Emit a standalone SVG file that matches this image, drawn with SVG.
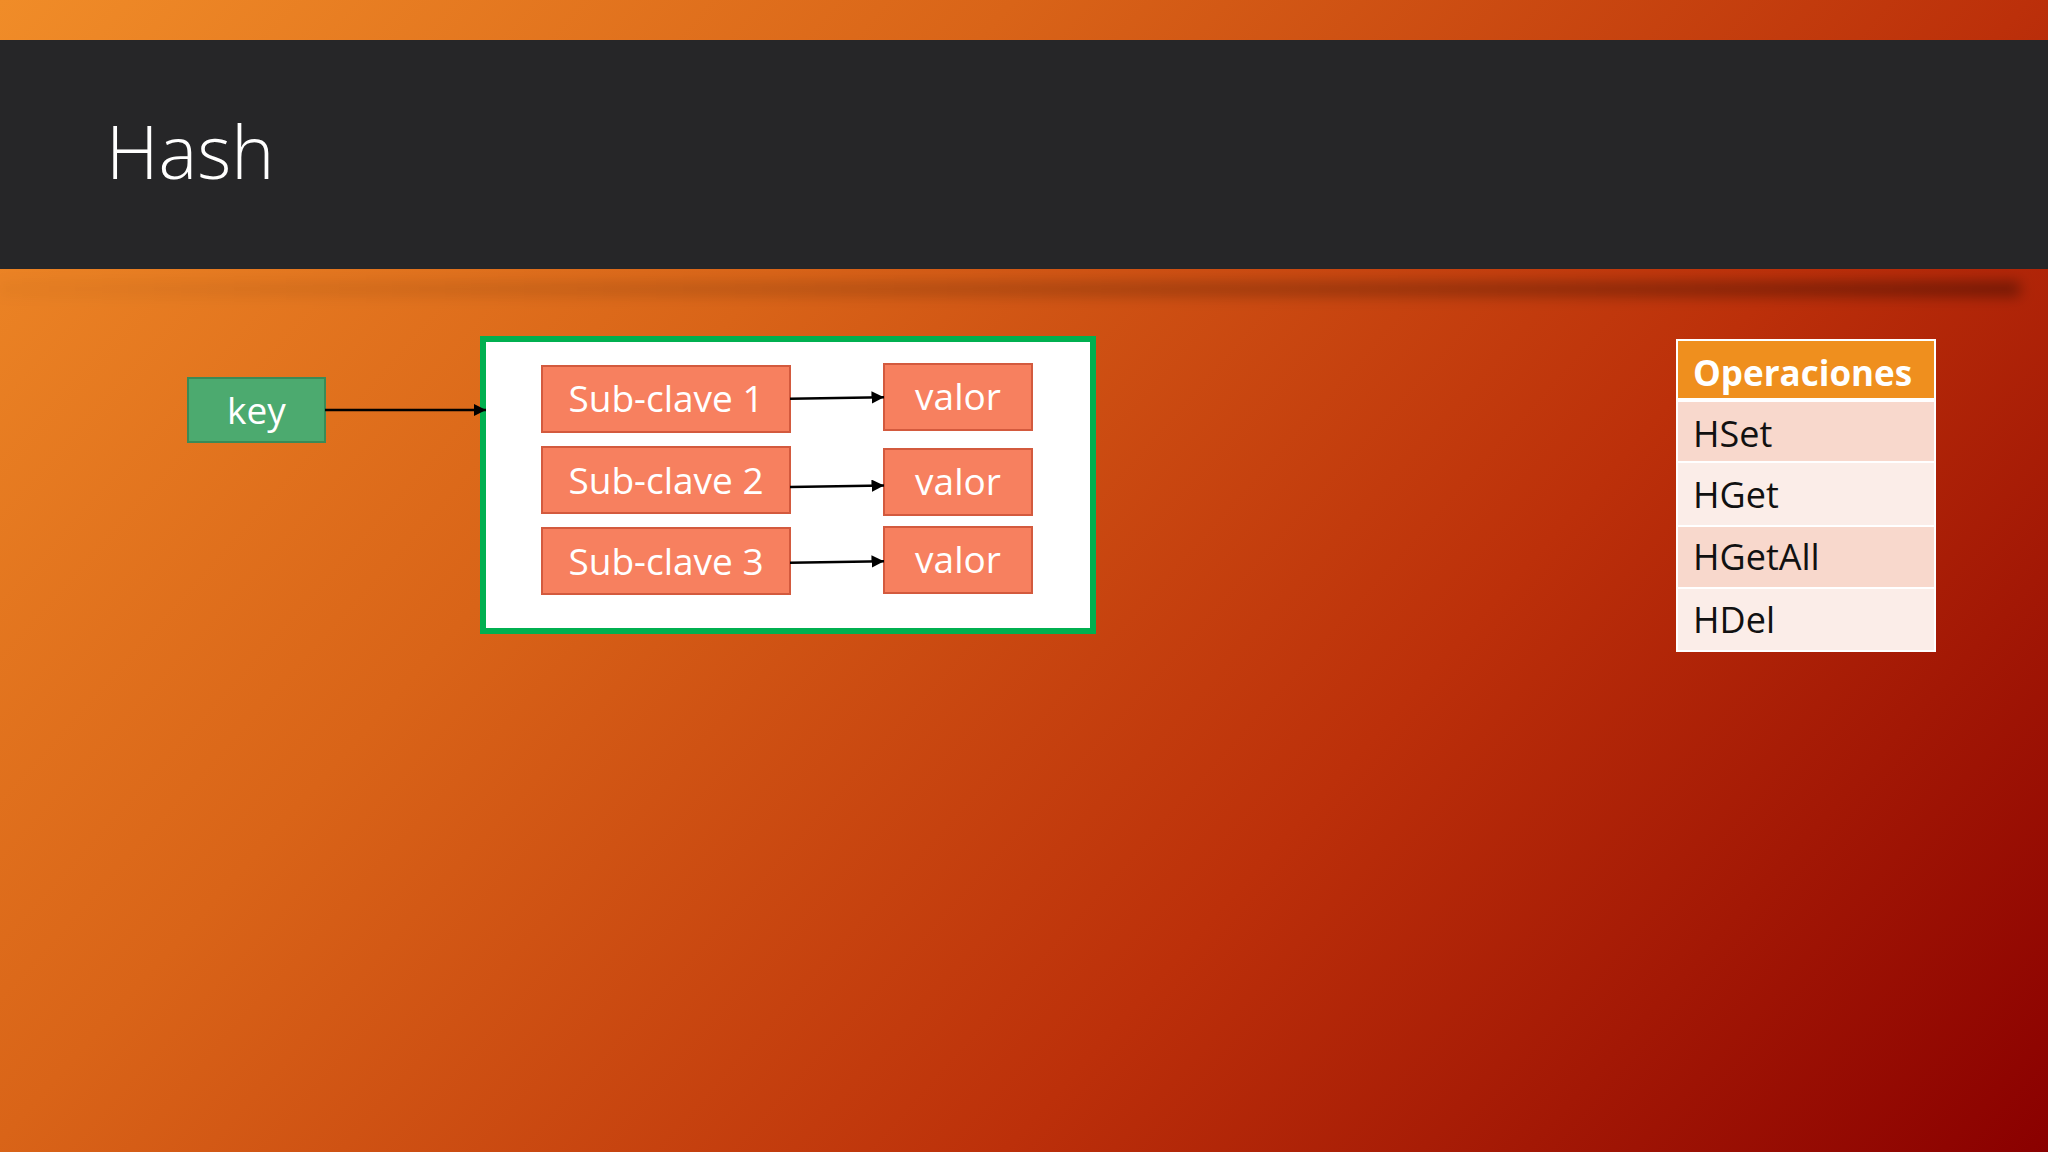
<svg xmlns="http://www.w3.org/2000/svg" width="2048" height="1152" viewBox="0 0 2048 1152">
<defs>
<linearGradient id="bg" gradientUnits="userSpaceOnUse" x1="0" y1="0" x2="1715" y2="1526">
<stop offset="0" stop-color="#F08C28"/>
<stop offset="0.33" stop-color="#D96418"/>
<stop offset="0.66" stop-color="#BC300A"/>
<stop offset="1" stop-color="#8A0000"/>
</linearGradient>
<linearGradient id="shadowGrad" x1="0" y1="0" x2="1" y2="0">
<stop offset="0" stop-color="#000" stop-opacity="0.03"/>
<stop offset="0.5" stop-color="#000" stop-opacity="0.18"/>
<stop offset="1" stop-color="#000" stop-opacity="0.38"/>
</linearGradient>
<filter id="blur" x="-5%" y="-200%" width="110%" height="500%">
<feGaussianBlur stdDeviation="7"/>
</filter>
<marker id="arrow" viewBox="0 0 10 10" refX="10" refY="5" markerWidth="5" markerHeight="5" orient="auto" markerUnits="strokeWidth">
<path d="M0,0 L10,5 L0,10 z" fill="#000"/>
</marker>
<style>
.title{font-family:"Open Sans","Liberation Sans",sans-serif;font-weight:300;font-size:73px;fill:#fff}
.box{fill:#F7805F;stroke:#D35A3E;stroke-width:2}
.keybox{fill:#4CAA6F;stroke:#3A8A56;stroke-width:2}
.lbl{font-family:"Open Sans","Liberation Sans",sans-serif;font-size:37px;fill:#fff;text-anchor:middle}
.conn{stroke:#000;stroke-width:2.5;fill:none;marker-end:url(#arrow)}
.th{font-family:"Open Sans","Liberation Sans",sans-serif;font-weight:700;font-size:35px;fill:#fff}
.td{font-family:"Open Sans","Liberation Sans",sans-serif;font-size:36px;fill:#111}
.rowA{fill:#F8D8CC}
.rowB{fill:#FBEDE8}
</style>
</defs>
<rect x="0" y="0" width="2048" height="1152" fill="url(#bg)"/>
<rect x="0" y="282" width="2020" height="14" fill="url(#shadowGrad)" filter="url(#blur)"/>
<rect x="0" y="40" width="2048" height="229" fill="#262628"/>
<text class="title" x="106" y="179">Hash</text>

<g id="key">
<rect class="keybox" x="188" y="378" width="137" height="64"/>
<text class="lbl" x="256.5" y="424">key</text>
</g>

<g id="hash-container">
<rect x="483" y="339" width="610" height="292" fill="#fff" stroke="#00B050" stroke-width="6"/>
</g>

<g id="subclave1">
<rect class="box" x="542" y="366" width="248" height="66"/>
<text class="lbl" x="666" y="412">Sub-clave 1</text>
</g>
<g id="subclave2">
<rect class="box" x="542" y="447" width="248" height="66"/>
<text class="lbl" x="666" y="494">Sub-clave 2</text>
</g>
<g id="subclave3">
<rect class="box" x="542" y="528" width="248" height="66"/>
<text class="lbl" x="666" y="575">Sub-clave 3</text>
</g>
<g id="valor1">
<rect class="box" x="884" y="364" width="148" height="66"/>
<text class="lbl" x="958" y="410">valor</text>
</g>
<g id="valor2">
<rect class="box" x="884" y="449" width="148" height="66"/>
<text class="lbl" x="958" y="495">valor</text>
</g>
<g id="valor3">
<rect class="box" x="884" y="527" width="148" height="66"/>
<text class="lbl" x="958" y="573">valor</text>
</g>

<g id="connectors">
<line class="conn" x1="325" y1="410" x2="486" y2="410"/>
<line class="conn" x1="790" y1="398.7" x2="884" y2="397.2"/>
<line class="conn" x1="790" y1="487" x2="884" y2="485.6"/>
<line class="conn" x1="790" y1="562.7" x2="884" y2="561.3"/>
</g>

<g id="operaciones-table">
<rect x="1676" y="339" width="260" height="313" fill="#fff"/>
<rect x="1678" y="341" width="256" height="57" fill="#EF8F1E"/>
<text class="th" x="1693" y="386">Operaciones</text>
<rect class="rowA" x="1678" y="402" width="256" height="59"/>
<text class="td" x="1693" y="447">HSet</text>
<rect class="rowB" x="1678" y="463" width="256" height="62"/>
<text class="td" x="1693" y="508">HGet</text>
<rect class="rowA" x="1678" y="527" width="256" height="60"/>
<text class="td" x="1693" y="570">HGetAll</text>
<rect class="rowB" x="1678" y="589" width="256" height="61"/>
<text class="td" x="1693" y="633">HDel</text>
</g>
</svg>
